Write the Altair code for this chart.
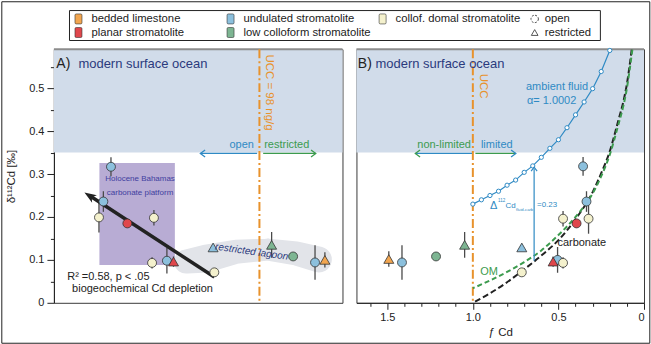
import altair as alt
import pandas as pd

FONT = "Liberation Sans"
NAVY = "#2b3a7d"
BLUE = "#2f8ac4"
GREEN = "#3c9b4e"
ORANGE = "#e8922c"
SHADE = "#d1dcea"
PURPLE = "#b8acd4"
BLOB = "#e2e4e9"
INK = "#222222"
TOPLINE = "#8c8c8c"

# ---------------- categories ----------------
type_names = ["bedded limestone", "planar stromatolite", "undulated stromatolite",
              "low colloform stromatolite", "collof. domal stromatolite"]
type_colors = ["#f2a650", "#e0474c", "#8cc0dd", "#7db592", "#f4f1cd"]
settings = ["open", "restricted"]

# ---------------- samples ----------------
sample_type = ["undulated stromatolite", "undulated stromatolite", "collof. domal stromatolite",
               "planar stromatolite", "collof. domal stromatolite", "undulated stromatolite",
               "collof. domal stromatolite", "planar stromatolite", "collof. domal stromatolite",
               "undulated stromatolite", "low colloform stromatolite", "low colloform stromatolite",
               "undulated stromatolite", "bedded limestone"]
setting = ["open", "open", "open", "open", "open", "open", "open", "restricted", "open",
           "restricted", "restricted", "open", "open", "restricted"]
cd_ngg = [36.0, 34.2, 33.2, 40.2, 48.1, 52.5, 47.5, 54.9, 72.3, 71.7, 106.4, 123.0, 142.6, 152.4]
d112_a = [0.317, 0.236, 0.199, 0.185, 0.198, 0.098, 0.093, 0.096, 0.071, 0.129, 0.135, 0.108, 0.094, 0.100]
f_cd = [0.356, 0.336, 0.324, 0.394, 0.473, 0.505, 0.473, 0.531, 0.714, 0.714, 1.048, 1.215, 1.414, 1.491]
d112_b = [0.318, 0.236, 0.196, 0.185, 0.196, 0.100, 0.093, 0.096, 0.071, 0.129, 0.135, 0.108, 0.094, 0.102]
err = [0.022, 0.024, 0.035, 0.0, 0.018, 0.03, 0.013, 0.012, 0.0, 0.0, 0.03, 0.0, 0.04, 0.018]

# ---------------- model curves in panel B ----------------
fluid_f = [1.0, 0.95, 0.9, 0.85, 0.8, 0.75, 0.7, 0.65, 0.6, 0.55, 0.5, 0.45, 0.4, 0.35, 0.3, 0.25, 0.2]
fluid_d = [0.230, 0.240, 0.250, 0.260, 0.274, 0.286, 0.304, 0.319, 0.339, 0.360, 0.380, 0.408,
           0.438, 0.468, 0.499, 0.539, 0.588]
carb_f = [1.0, 0.9, 0.8, 0.7, 0.6, 0.5, 0.4, 0.3, 0.25, 0.2, 0.15, 0.12, 0.1, 0.085, 0.072]
carb_d = [0.0, 0.022, 0.048, 0.078, 0.110, 0.146, 0.195, 0.258, 0.302, 0.353, 0.425, 0.47, 0.51, 0.55, 0.59]
om_f = [1.0, 0.9, 0.8, 0.7, 0.6, 0.5, 0.4, 0.3, 0.25, 0.2, 0.15, 0.12, 0.1, 0.085, 0.068]
om_d = [0.034, 0.052, 0.072, 0.095, 0.122, 0.158, 0.2, 0.255, 0.295, 0.345, 0.415, 0.46, 0.5, 0.54, 0.59]

# ---------------- axes / domains ----------------
A_dom = [24.5, 171.6]
B_dom = [0, 1.68]
Y_dom = [0, 0.591]
A_ticks = [50, 100, 150]
B_ticks = [0, 0.5, 1.0, 1.5]
B_minor = [0.1, 0.2, 0.3, 0.4, 0.6, 0.7, 0.8, 0.9, 1.1, 1.2, 1.3, 1.4, 1.6]
Y_ticks = [0, 0.1, 0.2, 0.3, 0.4, 0.5]
Y_minor = [0.05, 0.15, 0.25, 0.35, 0.45, 0.55]
UCC = 98
shade_low = 0.35

color_scale = alt.Scale(domain=type_names, range=type_colors)
shape_scale = alt.Scale(domain=settings, range=["circle", "triangle-up"])
size_scale = alt.Scale(domain=settings, range=[80, 100])

samples = pd.DataFrame({"type": sample_type, "setting": setting, "cd": cd_ngg, "dA": d112_a,
                        "f": f_cd, "dB": d112_b, "err": err})
samples["loA"] = samples.dA - samples.err
samples["hiA"] = samples.dA + samples.err
samples["loB"] = samples.dB - samples.err
samples["hiB"] = samples.dB + samples.err
bars = samples[samples.err > 0]

AXIS_COMMON = dict(grid=False, labelFont=FONT, titleFont=FONT, labelFontSize=11, titleFontSize=11.5,
                   titleFontWeight="normal", labelColor=INK, titleColor=INK, domainColor=INK,
                   tickColor=INK)


def xA(f, axis=None):
    return alt.X(f, type="quantitative", scale=alt.Scale(type="log", domain=A_dom, nice=False), axis=axis)


def yS(f, axis=None):
    return alt.Y(f, type="quantitative", scale=alt.Scale(domain=Y_dom, nice=False, zero=False), axis=axis)


def xB(f, axis=None):
    return alt.X(f, type="quantitative",
                 scale=alt.Scale(domain=B_dom, reverse=True, nice=False, zero=False), axis=axis)


axA_major = alt.Axis(values=A_ticks, title="Cd [ng/g]", orient="bottom", tickSize=6.5, labelPadding=2,
                     titlePadding=4, **AXIS_COMMON)
axY_major = alt.Axis(values=Y_ticks, title="δ¹¹²Cd [‰]", orient="left", tickSize=7, labelPadding=3,
                     titlePadding=12,
                     labelExpr="datum.value == 0 ? '0' : format(datum.value, '.1f')", **AXIS_COMMON)
axY_minor = alt.Axis(values=Y_minor, title=None, orient="left", tickSize=3.5, labels=False, domain=False,
                     grid=False, tickColor=INK)
axB_major = alt.Axis(values=B_ticks, title="ƒ Cd", orient="bottom", tickSize=6.5, labelPadding=2,
                     titlePadding=4,
                     labelExpr="datum.value == 0 ? '0' : format(datum.value, '.1f')", **AXIS_COMMON)
axB_minor = alt.Axis(values=B_minor, title=None, orient="bottom", tickSize=3.5, labels=False,
                     domain=False, grid=False, tickColor=INK)

CHEV_L = "M1,-0.75L0,0L1,0.75"
CHEV_R = "M-1,-0.75L0,0L-1,0.75"
CHEV_U = "M-0.75,1L0,0L0.75,1"
REG_HEAD = "M0,0L0.55,1.5L0,1.1L-0.55,1.5Z"
ROUND_SQ = ("M-0.45,-1L0.45,-1Q0.7,-1 0.7,-0.75L0.7,0.75Q0.7,1 0.45,1L-0.45,1Q-0.7,1 -0.7,0.75"
            "L-0.7,-0.75Q-0.7,-1 -0.45,-1Z")


def text_layer(df, xfn, **kw):
    return alt.Chart(df).mark_text(font=FONT, **kw).encode(x=xfn("x"), y=yS("y"), text="t:N")


# ================= panel A =================
shadeA = alt.Chart(pd.DataFrame({"x0": [A_dom[0]], "x1": [A_dom[1]], "y0": [shade_low], "y1": [Y_dom[1]]})
                   ).mark_rect(color=SHADE).encode(x=xA("x0"), x2="x1", y=yS("y0"), y2="y1")
topA = alt.Chart(pd.DataFrame({"x0": [A_dom[0]], "x1": [A_dom[1]], "y": [Y_dom[1]]})).mark_rule(
    color=TOPLINE, strokeWidth=2).encode(x=xA("x0"), x2="x1", y=yS("y"))
bahamas = alt.Chart(pd.DataFrame({"x0": [33.3], "x1": [55.4], "y0": [0.088], "y1": [0.326]})
                    ).mark_rect(color=PURPLE).encode(x=xA("x0"), x2="x1", y=yS("y0"), y2="y1")
lagoon = alt.Chart(pd.DataFrame({"x": [59.7, 68.4, 83.7, 103.8, 125.3, 146.3],
                                 "y": [0.096, 0.103, 0.119, 0.124, 0.115, 0.101],
                                 "w": [24, 28, 24, 22, 24, 26]})
                   ).mark_trail(color=BLOB).encode(x=xA("x"), y=yS("y"),
                                                   size=alt.Size("w:Q", scale=None, legend=None))
uccA = alt.Chart(pd.DataFrame({"x": [UCC]})).mark_rule(color=ORANGE, strokeWidth=2,
                                                       strokeDash=[9, 3, 2, 3]).encode(x=xA("x"))
arrA_lines = alt.Chart(pd.DataFrame({"x0": [96.5, 100.5], "x1": [65.8, 143.3], "y": [0.348, 0.348],
                                     "c": ["open", "restricted"]})
                       ).mark_rule(strokeWidth=1.3).encode(
    x=xA("x0"), x2="x1", y=yS("y"),
    color=alt.Color("c:N", scale=alt.Scale(domain=["open", "restricted"], range=[BLUE, GREEN]), legend=None))
arrA_head_l = alt.Chart(pd.DataFrame({"x": [65.8], "y": [0.348]})).mark_point(
    shape=CHEV_L, size=90, color=BLUE, strokeWidth=1.3, filled=False, opacity=1).encode(x=xA("x"), y=yS("y"))
arrA_head_r = alt.Chart(pd.DataFrame({"x": [143.3], "y": [0.348]})).mark_point(
    shape=CHEV_R, size=90, color=GREEN, strokeWidth=1.3, filled=False, opacity=1).encode(x=xA("x"), y=yS("y"))

reg_line = alt.Chart(pd.DataFrame({"x0": [72.3], "x1": [31.2], "y0": [0.06], "y1": [0.2495]})
                     ).mark_rule(color=INK, strokeWidth=3.5).encode(x=xA("x0"), x2="x1", y=yS("y0"), y2="y1")
reg_head = alt.Chart(pd.DataFrame({"x": [30.1], "y": [0.257]})).mark_point(
    shape=REG_HEAD, size=256, filled=True, color=INK, angle=303, opacity=1).encode(x=xA("x"), y=yS("y"))

barsA = alt.Chart(bars).mark_rule(color="#4a4a4a", strokeWidth=1.3).encode(
    x=xA("cd"), y=yS("loA", axY_minor), y2="hiA")
pointsA = alt.Chart(samples).mark_point(filled=True, stroke="#333333", strokeWidth=0.8, opacity=1).encode(
    x=xA("cd", axA_major), y=yS("dA", axY_major),
    fill=alt.Fill("type:N", scale=color_scale, legend=None),
    shape=alt.Shape("setting:N", scale=shape_scale, legend=None),
    size=alt.Size("setting:N", scale=size_scale, legend=None))

txtA = [
    text_layer(pd.DataFrame({"x": [24.9], "y": [0.557], "t": ["A)"]}), xA, align="left", fontSize=14,
               color=INK),
    text_layer(pd.DataFrame({"x": [28.9], "y": [0.557], "t": ["modern surface ocean"]}), xA, align="left",
               fontSize=13, color=NAVY),
    text_layer(pd.DataFrame({"x": [104.5], "y": [0.49], "t": ["UCC = 98 ng/g"]}), xA, angle=90,
               fontSize=11.5, color=ORANGE),
    text_layer(pd.DataFrame({"x": [94.4], "y": [0.367], "t": ["open"]}), xA, align="right", fontSize=11,
               color=BLUE),
    text_layer(pd.DataFrame({"x": [101.2], "y": [0.367], "t": ["restricted"]}), xA, align="left",
               fontSize=11, color=GREEN),
    text_layer(pd.DataFrame({"x": [43.8, 43.8], "y": [0.288, 0.255],
                             "t": ["Holocene Bahamas", "carbonate platform"]}), xA, fontSize=8,
               color="#3f3fa0"),
    text_layer(pd.DataFrame({"x": [93.0], "y": [0.119], "t": ["restricted lagoon"]}), xA, fontSize=10,
               fontStyle="italic", angle=8, color=NAVY),
    text_layer(pd.DataFrame({"x": [26.8, 27.7], "y": [0.0595, 0.0326],
                             "t": ["R² =0.58, p < .05", "biogeochemical Cd depletion"]}), xA,
               align="left", fontSize=11, color=INK),
]

A_data = alt.layer(shadeA, topA, bahamas, lagoon, uccA, arrA_lines, arrA_head_l, arrA_head_r, barsA,
                   reg_line, reg_head, pointsA, *txtA).resolve_axis(y="independent")

# ---------------- legend (drawn in panel A's frame, above the plot) ----------------
leg_items = pd.DataFrame({"name": type_names, "col": [0, 0, 1, 1, 2], "row": [0, 1, 0, 1, 0]})
leg_sym = pd.DataFrame({"name": settings, "col": [3, 3], "row": [0, 1]})


def lx(f):
    return alt.X(f, type="quantitative", scale=alt.Scale(domain=[0, 3], range=[24.6, 481.5]), axis=None)


def ly(f):
    return alt.Y(f, type="quantitative", scale=alt.Scale(domain=[0, 1], range=[-30.3, -16.7]), axis=None)


leg_box = alt.Chart(pd.DataFrame({"a": [0]})).mark_rect(fill="white", stroke=INK, strokeWidth=1).encode(
    x=alt.value(15.6), x2=alt.value(547.3), y=alt.value(-38.7), y2=alt.value(-8.7))
leg_sq = alt.Chart(leg_items).mark_point(shape=ROUND_SQ, size=100, filled=True, stroke="#333333",
                                         strokeWidth=0.6, opacity=1).encode(
    x=lx("col"), y=ly("row"), fill=alt.Fill("name:N", scale=color_scale, legend=None))
leg_txt = alt.Chart(leg_items).mark_text(font=FONT, fontSize=11.3, align="left", dx=13, color=INK).encode(
    x=lx("col"), y=ly("row"), text="name:N")
leg_open = alt.Chart(leg_sym[leg_sym.name == "open"]).mark_point(
    shape="circle", size=55, filled=False, color="#444444", strokeWidth=1, strokeDash=[2, 1.5],
    opacity=1).encode(x=lx("col"), y=ly("row"))
leg_restr = alt.Chart(leg_sym[leg_sym.name == "restricted"]).mark_point(
    shape="triangle-up", size=45, filled=False, color="#444444", strokeWidth=0.9, opacity=1).encode(
    x=lx("col"), y=ly("row"))
leg_sym_txt = alt.Chart(leg_sym).mark_text(font=FONT, fontSize=11.3, align="left", dx=10, color=INK).encode(
    x=lx("col"), y=ly("row"), text="name:N")
legend = alt.layer(leg_box, leg_sq, leg_txt, leg_open, leg_restr, leg_sym_txt)

frame = alt.Chart(pd.DataFrame({"a": [0]})).mark_rect(fill="transparent", stroke=INK, strokeWidth=1).encode(
    x=alt.value(-52.2), x2=alt.value(596.8), y=alt.value(-47.5), y2=alt.value(294.5))

panelA = alt.layer(A_data, legend, frame).resolve_scale(x="independent", y="independent").properties(
    width=289, height=254)

# ================= panel B =================
shadeB = alt.Chart(pd.DataFrame({"x0": [B_dom[0]], "x1": [B_dom[1]], "y0": [shade_low], "y1": [Y_dom[1]]})
                   ).mark_rect(color=SHADE).encode(x=xB("x0"), x2="x1", y=yS("y0"), y2="y1")
topB = alt.Chart(pd.DataFrame({"x0": [B_dom[0]], "x1": [B_dom[1]], "y": [Y_dom[1]]})).mark_rule(
    color=TOPLINE, strokeWidth=2).encode(x=xB("x0"), x2="x1", y=yS("y"))
uccB = alt.Chart(pd.DataFrame({"x": [1.0]})).mark_rule(color=ORANGE, strokeWidth=2,
                                                       strokeDash=[9, 3, 2, 3]).encode(x=xB("x"))
arrB_lines = alt.Chart(pd.DataFrame({"x0": [1.005, 0.985], "x1": [1.336, 0.749], "y": [0.348, 0.348],
                                     "c": ["non-limited", "limited"]})
                       ).mark_rule(strokeWidth=1.3).encode(
    x=xB("x0"), x2="x1", y=yS("y"),
    color=alt.Color("c:N", scale=alt.Scale(domain=["non-limited", "limited"], range=[GREEN, BLUE]),
                    legend=None))
arrB_head_l = alt.Chart(pd.DataFrame({"x": [1.336], "y": [0.348]})).mark_point(
    shape=CHEV_L, size=90, color=GREEN, strokeWidth=1.3, filled=False, opacity=1).encode(x=xB("x"), y=yS("y"))
arrB_head_r = alt.Chart(pd.DataFrame({"x": [0.749], "y": [0.348]})).mark_point(
    shape=CHEV_R, size=90, color=BLUE, strokeWidth=1.3, filled=False, opacity=1).encode(x=xB("x"), y=yS("y"))

carb = alt.Chart(pd.DataFrame({"x": carb_f, "y": carb_d})).mark_line(
    color=INK, strokeWidth=2, strokeDash=[6, 3], clip=True, interpolate="monotone").encode(
    x=xB("x"), y=yS("y"), order="x")
om = alt.Chart(pd.DataFrame({"x": om_f, "y": om_d})).mark_line(
    color=GREEN, strokeWidth=2, strokeDash=[5, 3], clip=True, interpolate="monotone").encode(
    x=xB("x"), y=yS("y"), order="x")
fluid_df = pd.DataFrame({"x": fluid_f, "y": fluid_d})
fluid_line = alt.Chart(fluid_df).mark_line(color=BLUE, strokeWidth=1.2).encode(x=xB("x"), y=yS("y"),
                                                                                 order="x")
fluid_pts = alt.Chart(fluid_df).mark_point(shape="circle", size=18, filled=True, fill="white", stroke=BLUE,
                                           strokeWidth=1, opacity=1).encode(x=xB("x"), y=yS("y"))

delta_line = alt.Chart(pd.DataFrame({"x": [0.642], "y0": [0.098], "y1": [0.313]})).mark_rule(
    color=BLUE, strokeWidth=1.2).encode(x=xB("x"), y=yS("y0"), y2="y1")
delta_head = alt.Chart(pd.DataFrame({"x": [0.642], "y": [0.316]})).mark_point(
    shape=CHEV_U, size=64, color=BLUE, strokeWidth=1.2, filled=False, opacity=1).encode(x=xB("x"), y=yS("y"))

barsB = alt.Chart(bars).mark_rule(color="#4a4a4a", strokeWidth=1.3).encode(
    x=xB("f", axB_minor), y=yS("loB"), y2="hiB")
pointsB = alt.Chart(samples).mark_point(filled=True, stroke="#333333", strokeWidth=0.8, opacity=1).encode(
    x=xB("f", axB_major), y=yS("dB"),
    fill=alt.Fill("type:N", scale=color_scale, legend=None),
    shape=alt.Shape("setting:N", scale=shape_scale, legend=None),
    size=alt.Size("setting:N", scale=size_scale, legend=None))

txtB = [
    text_layer(pd.DataFrame({"x": [1.672], "y": [0.557], "t": ["B)"]}), xB, align="left", fontSize=14,
               color=INK),
    text_layer(pd.DataFrame({"x": [1.569], "y": [0.557], "t": ["modern surface ocean"]}), xB, align="left",
               fontSize=13, color=NAVY),
    text_layer(pd.DataFrame({"x": [0.943], "y": [0.505], "t": ["UCC"]}), xB, angle=90, fontSize=11.5,
               color=ORANGE),
    text_layer(pd.DataFrame({"x": [1.011], "y": [0.367], "t": ["non-limited"]}), xB, align="right",
               fontSize=11, color=GREEN),
    text_layer(pd.DataFrame({"x": [0.953], "y": [0.367], "t": ["limited"]}), xB, align="left", fontSize=11,
               color=BLUE),
    text_layer(pd.DataFrame({"x": [0.690, 0.684], "y": [0.503, 0.470], "t": ["ambient fluid", "α= 1.0002"]}),
               xB, align="left", fontSize=11, color=BLUE),
    text_layer(pd.DataFrame({"x": [0.506], "y": [0.139], "t": ["carbonate"]}), xB, align="left", fontSize=11,
               color=INK),
    text_layer(pd.DataFrame({"x": [0.957], "y": [0.071], "t": ["OM"]}), xB, align="left", fontSize=11,
               color=GREEN),
    text_layer(pd.DataFrame({"x": [0.8996], "y": [0.226], "t": ["Δ"]}), xB, align="left", fontSize=11,
               color=BLUE),
    text_layer(pd.DataFrame({"x": [0.853], "y": [0.237], "t": ["112"]}), xB, align="left", fontSize=4.5,
               color=BLUE),
    text_layer(pd.DataFrame({"x": [0.809], "y": [0.226], "t": ["Cd"]}), xB, align="left", fontSize=8,
               color=BLUE),
    text_layer(pd.DataFrame({"x": [0.748], "y": [0.217], "t": ["fluid-carb"]}), xB, align="left", fontSize=4.2,
               color=BLUE),
    text_layer(pd.DataFrame({"x": [0.625], "y": [0.227], "t": ["=0.23"]}), xB, align="left", fontSize=8,
               color=BLUE),
]

panelB = alt.layer(shadeB, topB, uccB, arrB_lines, arrB_head_l, arrB_head_r, carb, om, fluid_line, fluid_pts,
                   delta_line, delta_head, barsB, pointsB, *txtB).resolve_axis(x="independent").properties(
    width=288, height=254)

chart = alt.hconcat(panelA, panelB, spacing=14, bounds="flush",
                    padding={"left": 0, "top": 0, "right": 0, "bottom": 0}).configure_view(
    stroke="#3a3a3a", strokeWidth=1).configure_axis(grid=False)

chart.save("out.html", embed_options={"renderer": "svg", "actions": False})
